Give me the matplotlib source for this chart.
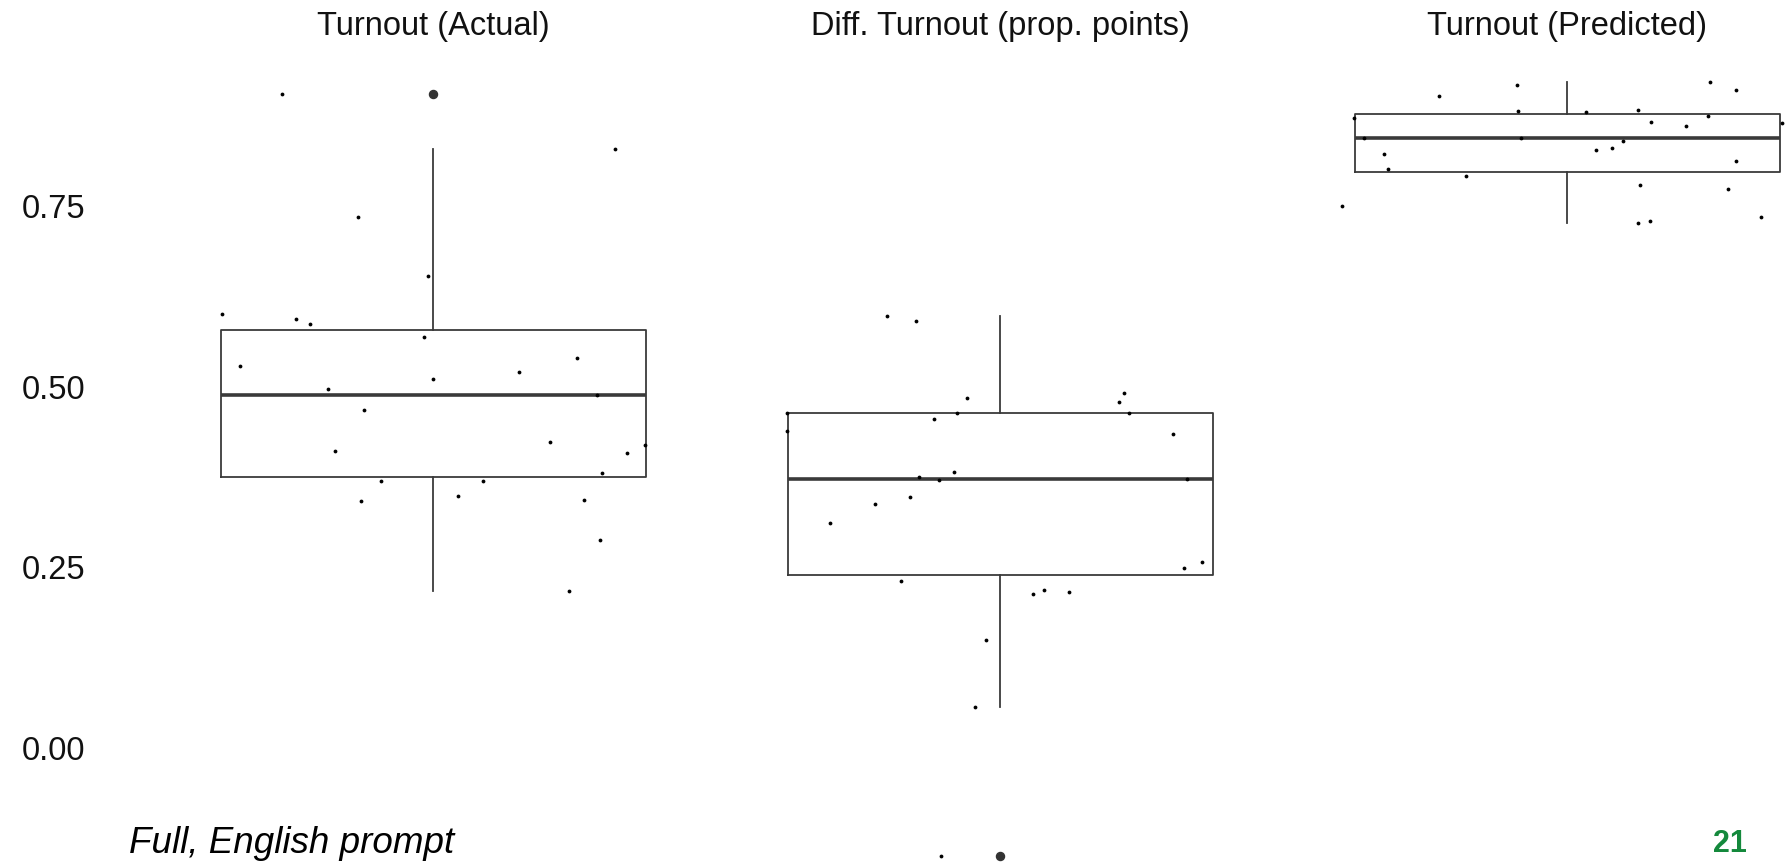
import matplotlib
matplotlib.use("Agg")
import matplotlib.pyplot as plt
import numpy as np

plt.rcParams["font.family"] = ["Liberation Sans", "DejaVu Sans"]

# Panel titles (one facet per measure)
panel_titles = ["Turnout (Actual)", "Diff. Turnout (prop. points)", "Turnout (Predicted)"]

# Observed values per facet
turnout_actual = [0.904, 0.828, 0.735, 0.653, 0.600, 0.593, 0.587, 0.568, 0.539,
                  0.529, 0.497, 0.511, 0.520, 0.488, 0.467, 0.411, 0.423, 0.408,
                  0.419, 0.380, 0.369, 0.369, 0.342, 0.348, 0.343, 0.288, 0.2176]
turnout_diff = [0.5975, 0.590, 0.4837, 0.491, 0.4786, 0.4628, 0.464, 0.464, 0.4385,
                0.4546, 0.4339, 0.3813, 0.3753, 0.3703, 0.3716, 0.3467, 0.337, 0.3116,
                0.2568, 0.2485, 0.2305, 0.2125, 0.218, 0.2153, 0.149, 0.0567, -0.150]
turnout_predicted = [0.750, 0.8718, 0.8433, 0.8211, 0.8013, 0.9013, 0.7907, 0.9174,
                     0.8804, 0.8437, 0.8792, 0.8266, 0.8299, 0.8400, 0.882, 0.8658,
                     0.7787, 0.7262, 0.7285, 0.8603, 0.8737, 0.9206, 0.9105, 0.8114,
                     0.7736, 0.7349, 0.8645]

# Horizontal jitter of each observation (category units)
jitter_actual = [-0.321, 0.385, -0.159, -0.011, -0.448, -0.290, -0.261, -0.021, 0.304,
                 -0.409, -0.223, 0.000, 0.180, 0.347, -0.147, -0.209, 0.247, 0.409,
                 0.448, 0.356, -0.111, 0.105, -0.154, 0.051, 0.319, 0.352, 0.286]
jitter_diff = [-0.240, -0.178, -0.071, 0.262, 0.250, -0.452, -0.092, 0.271, -0.452,
               -0.141, 0.366, -0.098, -0.172, -0.130, 0.395, -0.192, -0.265, -0.361,
               0.427, 0.389, -0.211, 0.068, 0.092, 0.146, -0.030, -0.054, -0.126]
jitter_predicted = [-0.477, -0.452, -0.431, -0.388, -0.379, -0.271, -0.214, -0.107,
                    -0.105, -0.099, 0.040, 0.060, 0.094, 0.118, 0.149, 0.176, 0.153,
                    0.150, 0.175, 0.251, 0.297, 0.302, 0.356, 0.357, 0.340, 0.410, 0.453]

y_ticks = [0.00, 0.25, 0.50, 0.75]
y_tick_labels = ["0.00", "0.25", "0.50", "0.75"]

series = [turnout_actual, turnout_diff, turnout_predicted]
jitters = [jitter_actual, jitter_diff, jitter_predicted]

W, H = 1790, 863
fig = plt.figure(figsize=(W / 100, H / 100), dpi=100)
fig.patch.set_facecolor("white")

# facet geometry (pixels)
panel_left0 = 150.0
panel_w = 567.0
panel_top = 40.0
panel_bottom = float(H)
y_lim = ((748 - panel_bottom) / 723.0, (748 - panel_top) / 723.0)

line_col = "#3a3a3a"
fs = 23.5

for i, (vals, jit, title) in enumerate(zip(series, jitters, panel_titles)):
    left = panel_left0 + i * panel_w
    ax = fig.add_axes([left / W, 0.0, panel_w / W, (panel_bottom - panel_top) / H])
    ax.set_facecolor("none")
    ax.boxplot(
        [vals], positions=[1.0], widths=0.9, whis=1.5, showcaps=False,
        boxprops=dict(color=line_col, linewidth=1.3),
        whiskerprops=dict(color=line_col, linewidth=1.3),
        medianprops=dict(color=line_col, linewidth=2.6),
        flierprops=dict(marker="o", markersize=5.8, markerfacecolor="#333333",
                        markeredgecolor="#333333", linestyle="none"),
    )
    ax.scatter(1.0 + np.asarray(jit), vals, s=7.5, color="black", linewidths=0, zorder=3)
    ax.set_xlim(0.4, 1.6)
    ax.set_ylim(*y_lim)
    for sp in ax.spines.values():
        sp.set_visible(False)
    ax.set_xticks([])
    if i == 0:
        ax.set_yticks(y_ticks)
        ax.set_yticklabels(y_tick_labels, fontsize=fs, color="#111111")
        ax.tick_params(axis="y", length=0, pad=(left - 85) * 0.72)
    else:
        ax.set_yticks([])
    fig.text((left + panel_w / 2) / W, 1 - 34.5 / H, title, ha="center", va="baseline",
             fontsize=fs, color="#111111")

fig.text(129 / W, 1 - 853 / H, "Full, English prompt", ha="left", va="baseline",
         fontsize=26.5, style="italic", color="black")
fig.text(1747 / W, 1 - 852 / H, "21", ha="right", va="baseline",
         fontsize=22, fontweight="bold", color="#14893c")

fig.savefig("out.png", dpi=100, facecolor="white")
